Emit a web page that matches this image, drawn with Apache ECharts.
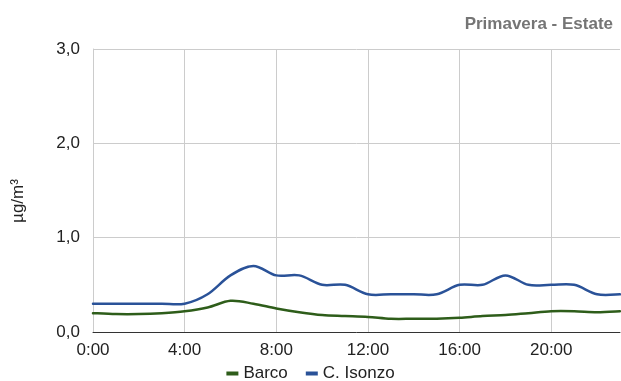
<!DOCTYPE html>
<html><head><meta charset="utf-8">
<script src="https://cdn.jsdelivr.net/npm/echarts@6/dist/echarts.min.js"></script>
<style>html,body{margin:0;padding:0;background:#fff}#c{width:621px;height:381px}</style>
</head><body><div id="c"></div>
<script>
const hours = ["0:00","1:00","2:00","3:00","4:00","5:00","6:00","7:00","8:00","9:00","10:00","11:00","12:00","13:00","14:00","15:00","16:00","17:00","18:00","19:00","20:00","21:00","22:00","23:00"];
const barco = [0.2,0.19,0.19,0.2,0.22,0.26,0.33,0.3,0.25,0.21,0.18,0.17,0.16,0.14,0.14,0.14,0.15,0.17,0.18,0.2,0.22,0.22,0.21,0.22];
const isonzo = [0.3,0.3,0.3,0.3,0.3,0.4,0.6,0.7,0.6,0.6,0.5,0.5,0.4,0.4,0.4,0.4,0.5,0.5,0.6,0.5,0.5,0.5,0.4,0.4];
const yTicks = [0,1,2,3];
const F = 'Liberation Sans, Arial, sans-serif';
const chart = echarts.init(document.getElementById('c'));

function splineSeries(name, arr, color){
  return {
    name:name, type:'custom', coordinateSystem:'cartesian2d',
    data: arr.map((v,i)=>[i,v]),
    encode:{x:0,y:1},
    itemStyle:{color:color},
    renderItem:function(params, api){
      if (params.dataIndex !== 0) return null;
      const P = arr.map((v,i)=>api.coord([i,v]));
      const n = P.length;
      let d = 'M' + P[0][0] + ',' + P[0][1];
      for (let i=0;i<n-1;i++){
        const p0 = P[Math.max(i-1,0)], p1 = P[i], p2 = P[i+1], p3 = P[Math.min(i+2,n-1)];
        const c1x = p1[0] + (p2[0]-p0[0])/6, c1y = p1[1] + (p2[1]-p0[1])/6;
        const c2x = p2[0] - (p3[0]-p1[0])/6, c2y = p2[1] - (p3[1]-p1[1])/6;
        d += ' C' + c1x + ',' + c1y + ' ' + c2x + ',' + c2y + ' ' + p2[0] + ',' + p2[1];
      }
      return {type:'path', shape:{pathData:d}, style:{fill:null, stroke:color, lineWidth:2.5, lineJoin:'round', lineCap:'round'}};
    }
  };
}

chart.setOption({
  animation:false,
  title:{text:'Primavera - Estate',right:3,top:11,textStyle:{fontFamily:F,fontSize:17,fontWeight:'bold',color:'#757575'}},
  grid:{left:93,right:1,top:49,bottom:49},
  legend:{top:360,left:'center',itemWidth:12,itemHeight:4,itemGap:18,icon:'rect',
    textStyle:{fontFamily:F,fontSize:17,color:'#222'},data:['Barco','C. Isonzo']},
  graphic:[{type:'text',x:18,y:201,rotation:Math.PI/2,style:{text:'µg/m³',font:'17px '+F,fill:'#222',align:'center',verticalAlign:'middle'}}],
  xAxis:{type:'category',data:hours,boundaryGap:false,
    axisLine:{lineStyle:{color:'#333'}},axisTick:{show:false},
    axisLabel:{interval:3,fontFamily:F,fontSize:17,color:'#222',margin:10},
    splitLine:{show:true,interval:3,lineStyle:{color:'#ccc'}}},
  yAxis:{type:'value',min:yTicks[0],max:yTicks[yTicks.length-1],interval:1,
    axisLine:{show:true,lineStyle:{color:'#ccc'}},axisTick:{show:false},
    axisLabel:{fontFamily:F,fontSize:17,color:'#222',margin:13,formatter:v=>v.toFixed(1).replace('.',',')},
    splitLine:{lineStyle:{color:'#ccc'}}},
  series:[
    splineSeries('Barco', barco, '#2e5d1a'),
    splineSeries('C. Isonzo', isonzo, '#2a5298')
  ]
});
</script></body></html>
